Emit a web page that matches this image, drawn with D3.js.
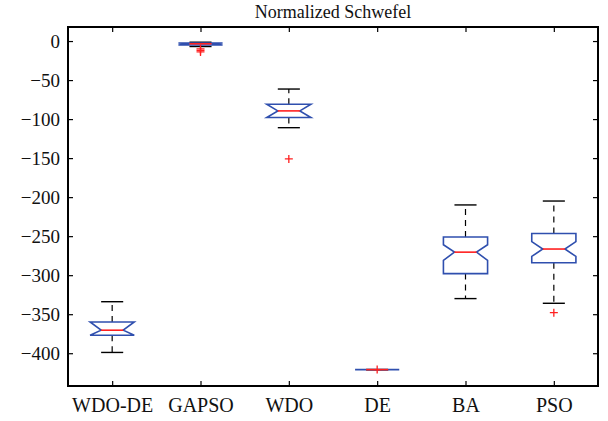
<!DOCTYPE html>
<html>
<head>
<meta charset="utf-8">
<script src="https://cdn.jsdelivr.net/npm/d3@7"></script>
<style>
  html, body { margin: 0; padding: 0; background: #fff; }
</style>
</head>
<body>
<svg id="chart" width="608" height="421"></svg>
<script>
// Box-plot summary per algorithm (normalized Schwefel results)
const categories = ["WDO-DE", "GAPSO", "WDO", "DE", "BA", "PSO"];
const whiskerHi  = [-334, -1.5, -61.5, -421, -210, -205];
const q3         = [-360, -2.5, -81, -421, -251, -246.5];
const medians    = [-370.5, -3.5, -89.5, -421, -270.5, -266.5];
const q1         = [-377, -5, -98, -421, -298, -284];
const whiskerLo  = [-399, -7, -111, -421, -330, -336];
const notchHi    = [-360, -2.5, -81, -421, -261, -257];
const notchLo    = [-377, -5, -98, -421, -281, -276];
const outliers   = [[], [-10, -12, -14], [-151], [-421], [], [-348]];
const yTicks     = [0, -50, -100, -150, -200, -250, -300, -350, -400];
const title      = "Normalized Schwefel";

const FONT = "'Liberation Serif', 'DejaVu Serif', serif";

const svg = d3.select("#chart");
const L = 68, R = 598, T = 27, B = 386;

const x = d3.scaleLinear().domain([0.5, categories.length + 0.5]).range([L, R]);
const y = d3.scaleLinear().domain([-442, 18]).range([B, T]);

const boxW = 0.25;     // half box width in category units
const notchW = 0.125;  // half width at the notch waist
const capW = 0.125;    // half width of whisker caps

const blue = "#2f4fae", red = "#ff2020";

// plot frame
svg.append("rect").attr("x", L).attr("y", T).attr("width", R - L).attr("height", B - T)
  .attr("fill", "none").attr("stroke", "#000").attr("stroke-width", 2);

// axes with inward ticks
const tickLen = 5;
const xIdx = categories.map((d, i) => i + 1);
const gx = svg.append("g").attr("transform", `translate(0,${B})`)
  .call(d3.axisBottom(x).tickValues(xIdx).tickFormat(i => categories[i - 1]).tickSize(-tickLen).tickPadding(12));
const gxTop = svg.append("g").attr("transform", `translate(0,${T})`)
  .call(d3.axisTop(x).tickValues(xIdx).tickFormat("").tickSize(-tickLen));
const gy = svg.append("g").attr("transform", `translate(${L},0)`)
  .call(d3.axisLeft(y).tickValues(yTicks).tickFormat(d => d === 0 ? "0" : "\u2212" + Math.abs(d)).tickSize(-tickLen).tickPadding(8));
const gyR = svg.append("g").attr("transform", `translate(${R},0)`)
  .call(d3.axisRight(y).tickValues(yTicks).tickFormat("").tickSize(-tickLen));

[gx, gxTop, gy, gyR].forEach(g => {
  g.attr("font-family", FONT);
  g.select(".domain").remove();
  g.selectAll(".tick line").attr("stroke", "#000").attr("stroke-width", 1.2);
});
gx.selectAll("text").style("font-family", FONT).attr("font-size", 20).attr("fill", "#111");
gy.selectAll("text").style("font-family", FONT).attr("font-size", 19).attr("fill", "#111").attr("dy", "0.35em");

// title
svg.append("text").attr("x", (L + R) / 2).attr("y", 18).attr("text-anchor", "middle")
  .style("font-family", FONT).attr("font-size", 18).attr("fill", "#111").text(title);

// boxes
const g = svg.append("g");
categories.forEach((c, i) => {
  const cx = i + 1;
  // whiskers (dashed) and caps
  [[q3[i], whiskerHi[i]], [q1[i], whiskerLo[i]]].forEach(([a, b]) => {
    g.append("line").attr("x1", x(cx)).attr("x2", x(cx)).attr("y1", y(a)).attr("y2", y(b))
      .attr("stroke", "#000").attr("stroke-width", 1.2).attr("stroke-dasharray", "6,5");
    g.append("line").attr("x1", x(cx - capW)).attr("x2", x(cx + capW)).attr("y1", y(b)).attr("y2", y(b))
      .attr("stroke", "#000").attr("stroke-width", 1.4);
  });
  // notched box outline
  const pts = [
    [cx - boxW, q3[i]], [cx + boxW, q3[i]], [cx + boxW, notchHi[i]], [cx + notchW, medians[i]],
    [cx + boxW, notchLo[i]], [cx + boxW, q1[i]], [cx - boxW, q1[i]], [cx - boxW, notchLo[i]],
    [cx - notchW, medians[i]], [cx - boxW, notchHi[i]]
  ];
  g.append("path").attr("d", d3.line().x(p => x(p[0])).y(p => y(p[1]))(pts) + "Z")
    .attr("fill", "none").attr("stroke", blue).attr("stroke-width", 1.6);
  // median
  g.append("line").attr("x1", x(cx - notchW)).attr("x2", x(cx + notchW))
    .attr("y1", y(medians[i])).attr("y2", y(medians[i]))
    .attr("stroke", red).attr("stroke-width", 1.6);
  // outliers
  outliers[i].forEach(v => {
    g.append("path").attr("d", `M${x(cx) - 4},${y(v)}h8M${x(cx)},${y(v) - 4}v8`)
      .attr("stroke", red).attr("stroke-width", 1.3).attr("fill", "none");
  });
});
</script>
</body>
</html>
